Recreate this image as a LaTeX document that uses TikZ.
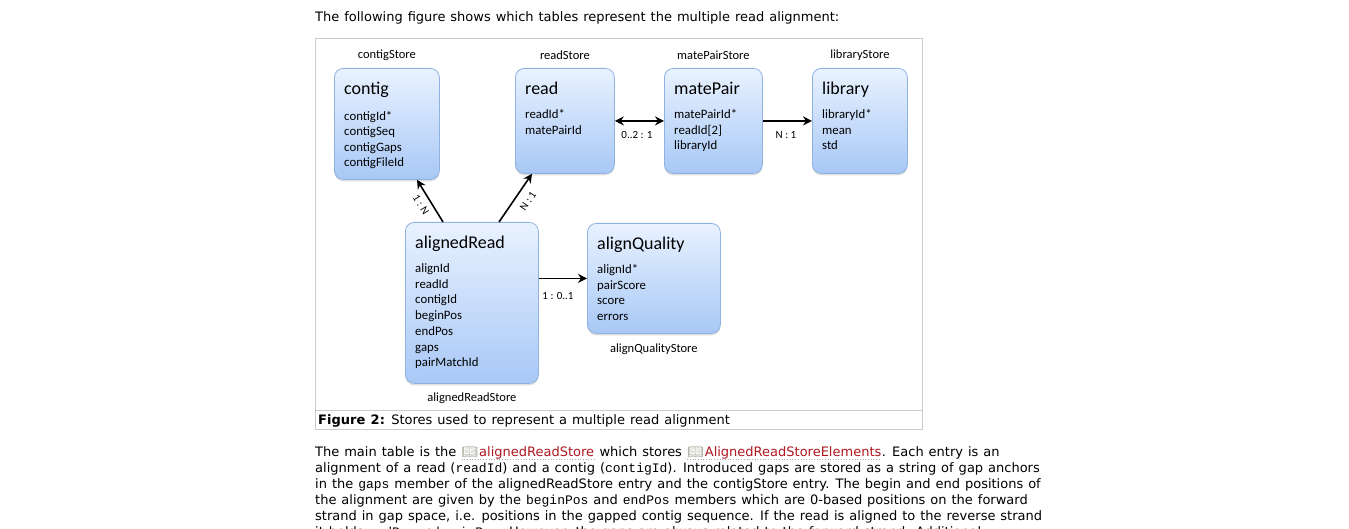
\documentclass[tikz,border=0pt]{standalone}
\usepackage{fontspec}
\setmainfont{DejaVu Sans}[WordSpace=1.2]
\newfontfamily\diag{Carlito}
\newfontfamily\monof{Liberation Mono}
\newfontfamily\emojif{Noto Emoji}
\usetikzlibrary{arrows.meta,calc,shadows}
\definecolor{linkred}{HTML}{B0171F}
\definecolor{boxtop}{HTML}{E9F2FF}
\definecolor{boxbot}{HTML}{A8C8F6}
\definecolor{boxline}{HTML}{8FB2E0}
\definecolor{framegray}{HTML}{CCCCCC}
\definecolor{icongray}{HTML}{A9A99A}
\newcommand\bookicon{{\emojif\fontsize{13}{16}\selectfont\textcolor{icongray}{📖}}\kern1pt}
\newcommand\mono[1]{{\monof\fontsize{13}{16}\selectfont #1}}
\begin{document}
\begin{tikzpicture}[x=1pt,y=-1pt,
  box/.style={draw=boxline, line width=0.8pt, rounded corners=9pt,
    top color=boxtop, bottom color=boxbot,
    drop shadow={opacity=0.25, shadow xshift=0pt, shadow yshift=-2pt},
    inner sep=0pt, anchor=north west},
  ttl/.style={font=\diag\fontsize{18}{20}\selectfont, anchor=base west, inner sep=0pt},
  field/.style={font=\diag\fontsize{12.8}{15}\selectfont, anchor=base west, inner sep=0pt},
  store/.style={font=\diag\fontsize{12.5}{15}\selectfont, inner sep=0pt},
  lbl/.style={font=\diag\fontsize{11}{13}\selectfont, inner sep=0pt},
  arr/.style={line width=1.6pt, -{Stealth[length=9pt,width=9pt,inset=3pt]}},
  darr/.style={line width=1.6pt, {Stealth[length=9pt,width=9pt,inset=3pt]}-{Stealth[length=9pt,width=9pt,inset=3pt]}},
  body/.style={font=\fontsize{13}{16}\selectfont, anchor=base west, inner sep=0pt},
  uline/.style={gray!70, dotted, line width=0.7pt}
]
\useasboundingbox (0,0) rectangle (1349,529);
\fill[white] (0,0) rectangle (1349,529);

% intro line
\node[body] (intro) at (315,22) {The following figure shows which tables represent the multiple read alignment:};

% figure frame
\draw[framegray, line width=1pt] (315,39) rectangle (922,429);
\draw[framegray, line width=1pt] (315,410) -- (922,410);
\node[body] (caption) at (318,424.5) {\textbf{Figure 2:} Stores used to represent a multiple read alignment};

% boxes
\node[box, minimum width=105pt, minimum height=111pt] (contig) at (334,68) {};
\node[box, minimum width=99pt, minimum height=105pt] (read) at (515,68) {};
\node[box, minimum width=98pt, minimum height=105pt] (mate) at (664,68) {};
\node[box, minimum width=95pt, minimum height=105pt] (library) at (812,68) {};
\node[box, minimum width=133pt, minimum height=161pt] (aligned) at (405,222) {};
\node[box, minimum width=133pt, minimum height=110pt] (quality) at (587,223) {};

% titles
\node[ttl] (contig-t) at ($(contig.north west)+(10,27)$) {contig};
\node[ttl] (read-t) at ($(read.north west)+(10,26.5)$) {read};
\node[ttl] (mate-t) at ($(mate.north west)+(10,27)$) {matePair};
\node[ttl] (library-t) at ($(library.north west)+(10,27)$) {library};
\node[ttl] (aligned-t) at ($(aligned.north west)+(10,27)$) {alignedRead};
\node[ttl] (quality-t) at ($(quality.north west)+(10,27)$) {alignQuality};

% fields
\foreach \t [count=\i from 0] in {{contigId*},{contigSeq},{contigGaps},{contigFileId}}
  \node[field] (contig-f\i) at ($(contig.north west)+(10,52.5+15.3*\i)$) {\t};
\foreach \t [count=\i from 0] in {{readId*},{matePairId}}
  \node[field] (read-f\i) at ($(read.north west)+(10,51+15.5*\i)$) {\t};
\foreach \t [count=\i from 0] in {{matePairId*},{readId[2]},{libraryId}}
  \node[field] (mate-f\i) at ($(mate.north west)+(10,51+15.4*\i)$) {\t};
\foreach \t [count=\i from 0] in {{libraryId*},{mean},{std}}
  \node[field] (library-f\i) at ($(library.north west)+(10,51+15.4*\i)$) {\t};
\foreach \t [count=\i from 0] in {{alignId},{readId},{contigId},{beginPos},{endPos},{gaps},{pairMatchId}}
  \node[field] (aligned-f\i) at ($(aligned.north west)+(10,50.5+15.7*\i)$) {\t};
\foreach \t [count=\i from 0] in {{alignId*},{pairScore},{score},{errors}}
  \node[field] (quality-f\i) at ($(quality.north west)+(10,50.5+15.6*\i)$) {\t};

% store labels
\node[store] (contigStore) at ($(contig.north)+(0,-13)$) {contigStore};
\node[store] (readStore) at ($(read.north)+(0,-13)$) {readStore};
\node[store] (mateStore) at ($(mate.north)+(0,-13)$) {matePairStore};
\node[store] (libraryStore) at ($(library.north)+(0,-13)$) {libraryStore};
\node[store] (qualityStore) at ($(quality.south)+(0,15)$) {alignQualityStore};
\node[store] (alignedStore) at ($(aligned.south)+(0,14)$) {alignedReadStore};

% connectors
\draw[darr] (read) -- (mate);
\draw[arr] (mate) -- (library);
\draw[arr] (aligned.east |- quality) -- (quality.west);
\draw[arr] ($(aligned.north west)+(38,0)$) -- ($(contig.south west)+(83,0)$);
\draw[arr] ($(aligned.north west)+(94,0)$) -- ($(read.south west)+(17,0)$);

% connector labels
\node[lbl] (l-rm) at (637,135) {0..2 : 1};
\node[lbl] (l-ml) at (786,135) {N : 1};
\node[lbl] (l-aq) at (558,296) {1 : 0..1};
\node[lbl, rotate=-59] (l-ac) at (421,205) {1 : N};
\node[lbl, rotate=56] (l-ar) at (528,201) {N : 1};

% body text
\node[body] (p1a) at (315,456) {The main table is the\ \null};
\node[body] (p1b) at (p1a.base east) {\bookicon\textcolor{linkred}{alignedReadStore}};
\node[body] (p1c) at (p1b.base east) {\ which stores\ \null};
\node[body] (p1d) at (p1c.base east) {\bookicon\textcolor{linkred}{AlignedReadStoreElements}};
\node[body] (p1e) at (p1d.base east) {. Each entry is an};
\draw[uline] ($(p1b.base west)+(0,3)$) -- ($(p1b.base east)+(0,3)$);
\draw[uline] ($(p1d.base west)+(0,3)$) -- ($(p1d.base east)+(0,3)$);
\node[body] (p2) at (315,472) {alignment of a read (\mono{readId}) and a contig (\mono{contigId}). Introduced gaps are stored as a string of gap anchors};
\node[body] (p3) at (315,488) {in the \mono{gaps} member of the alignedReadStore entry and the contigStore entry. The begin and end positions of};
\node[body] (p4) at (315,504) {the alignment are given by the \mono{beginPos} and \mono{endPos} members which are 0-based positions on the forward};
\node[body] (p5) at (315,520) {strand in gap space, i.e. positions in the gapped contig sequence. If the read is aligned to the reverse strand};
\node[body] (p6) at (315,536) {it holds \mono{endPos} < \mono{beginPos}. However, the gaps are always related to the forward strand. Additional};
\end{tikzpicture}
\end{document}
